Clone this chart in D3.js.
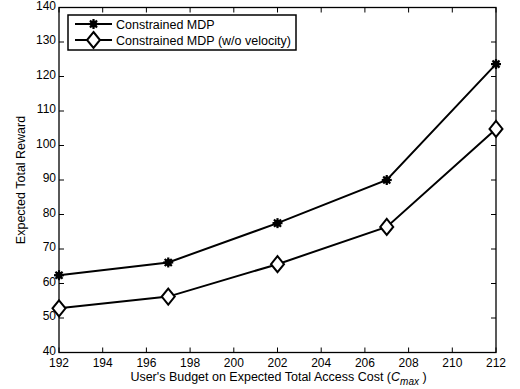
<!DOCTYPE html>
<html>
<head>
<meta charset="utf-8">
<script src="https://cdn.jsdelivr.net/npm/d3@7"></script>
<style>
  body { margin: 0; background: #fff; }
  text { font-family: "Liberation Sans", Arial, sans-serif; fill: #000; }
</style>
</head>
<body>
<svg id="chart" width="520" height="389"></svg>
<script>
// data
const budgets = [192, 197, 202, 207, 212];
const rewardMdp = [62.4, 66.1, 77.5, 90.0, 123.6];
const rewardNoVelocity = [52.8, 56.2, 65.6, 76.4, 104.8];
const seriesNames = ["Constrained MDP", "Constrained MDP (w/o velocity)"];
const xTicks = d3.range(192, 213, 2);
const yTicks = d3.range(40, 141, 10);

const svg = d3.select("#chart");
const margin = { left: 59, right: 24, top: 7.5, bottom: 36.5 };
const width = 520 - margin.left - margin.right;
const height = 389 - margin.top - margin.bottom;

const x = d3.scaleLinear().domain([192, 212]).range([0, width]);
const y = d3.scaleLinear().domain([40, 140]).range([height, 0]);

const g = svg.append("g").attr("transform", `translate(${margin.left},${margin.top})`);

// box with inward ticks on all sides
const tick = 5;
g.append("g").selectAll("line").data(xTicks).join("line")
  .attr("x1", d => x(d)).attr("x2", d => x(d))
  .attr("y1", height).attr("y2", height - tick).attr("stroke", "#000");
g.append("g").selectAll("line").data(xTicks).join("line")
  .attr("x1", d => x(d)).attr("x2", d => x(d))
  .attr("y1", 0).attr("y2", tick).attr("stroke", "#000");
g.append("g").selectAll("line").data(yTicks).join("line")
  .attr("x1", 0).attr("x2", tick)
  .attr("y1", d => y(d)).attr("y2", d => y(d)).attr("stroke", "#000");
g.append("g").selectAll("line").data(yTicks).join("line")
  .attr("x1", width).attr("x2", width - tick)
  .attr("y1", d => y(d)).attr("y2", d => y(d)).attr("stroke", "#000");

g.append("rect").attr("width", width).attr("height", height)
  .attr("fill", "none").attr("stroke", "#000").attr("stroke-width", 1.3);

// tick labels
g.append("g").selectAll("text").data(xTicks).join("text")
  .attr("x", d => x(d)).attr("y", height + 14.5)
  .attr("text-anchor", "middle").attr("font-size", 12)
  .text(d => d);
g.append("g").selectAll("text").data(yTicks).join("text")
  .attr("x", -3).attr("y", d => y(d) + 2)
  .attr("text-anchor", "end").attr("font-size", 12)
  .text(d => d);

// axis titles
const xt = g.append("text").attr("x", width / 2 + 1).attr("y", height + 28.5)
  .attr("text-anchor", "middle").attr("font-size", 12.5);
xt.append("tspan").text("User's Budget on Expected Total Access Cost (");
xt.append("tspan").attr("font-style", "italic").text("C");
xt.append("tspan").attr("font-style", "italic").attr("font-size", 10).attr("dy", 4).text("max");
xt.append("tspan").attr("dy", -4).text(" )");

g.append("text")
  .attr("transform", `translate(${-34},${height / 2}) rotate(-90)`)
  .attr("text-anchor", "middle").attr("font-size", 12.5)
  .text("Expected Total Reward");

// lines and markers
const line = d3.line().x((d, i) => x(budgets[i])).y(d => y(d));
const series = [rewardMdp, rewardNoVelocity];
g.selectAll("path.series").data(series).join("path")
  .attr("class", "series")
  .attr("d", line).attr("fill", "none")
  .attr("stroke", "#000").attr("stroke-width", 2);

function star(sel) {
  sel.append("circle").attr("r", 3.5).attr("fill", "#000");
  [0, 45, 90, 135].forEach(a => {
    const r = a * Math.PI / 180, L = 5;
    sel.append("line")
      .attr("x1", -L * Math.cos(r)).attr("y1", -L * Math.sin(r))
      .attr("x2", L * Math.cos(r)).attr("y2", L * Math.sin(r))
      .attr("stroke", "#000").attr("stroke-width", 2.2);
  });
}
function diamond(sel) {
  sel.append("path").attr("d", "M0,-8L6.5,0L0,8L-6.5,0Z")
    .attr("fill", "#fff").attr("stroke", "#000").attr("stroke-width", 2);
}

g.selectAll("g.star").data(rewardMdp).join("g")
  .attr("class", "star")
  .attr("transform", (d, i) => `translate(${x(budgets[i])},${y(d)})`)
  .each(function() { star(d3.select(this)); });
g.selectAll("g.dia").data(rewardNoVelocity).join("g")
  .attr("class", "dia")
  .attr("transform", (d, i) => `translate(${x(budgets[i])},${y(d)})`)
  .each(function() { diamond(d3.select(this)); });

// legend
const lg = svg.append("g").attr("transform", "translate(68,15)");
lg.append("rect").attr("width", 228).attr("height", 35)
  .attr("fill", "#fff").attr("stroke", "#000").attr("stroke-width", 1.5);
const markers = [star, diamond];
seriesNames.forEach((name, i) => {
  const row = lg.append("g").attr("transform", `translate(0,${9 + i * 16})`);
  row.append("line").attr("x1", 7).attr("x2", 44).attr("y1", 0).attr("y2", 0)
    .attr("stroke", "#000").attr("stroke-width", 2);
  const m = row.append("g").attr("transform", "translate(25.5,0)");
  markers[i](m);
  row.append("text").attr("x", 48).attr("y", 4.5).attr("font-size", 12.5).text(name);
});
</script>
</body>
</html>
